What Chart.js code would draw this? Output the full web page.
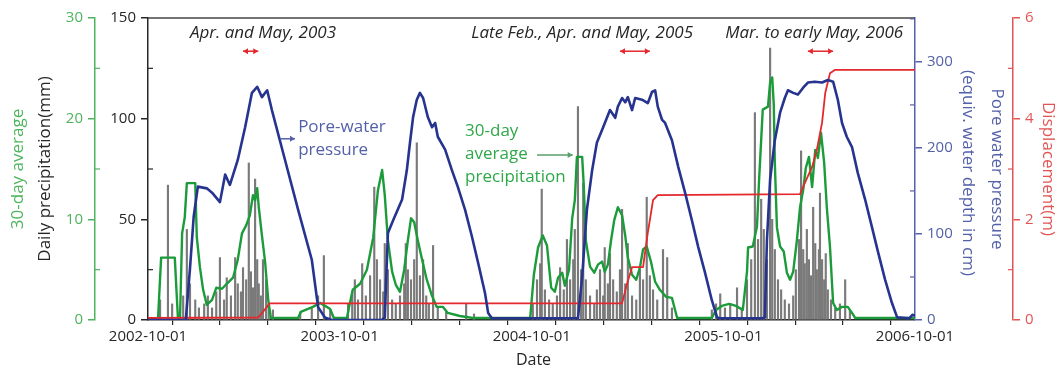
<!DOCTYPE html>
<html>
<head>
<meta charset="utf-8">
<script src="https://cdn.jsdelivr.net/npm/chart.js@4.4.0/dist/chart.umd.min.js"></script>
<style>
  html, body { margin: 0; padding: 0; background: #fff; }
</style>
</head>
<body>
<canvas id="chart" width="1063" height="371"></canvas>
<script>
// days are counted from 2002-10-01
const xTickDay = [0, 92, 182, 273, 365, 457, 548, 639, 731, 823, 913, 1004, 1096, 1188, 1278, 1369, 1461];
const xTickLabel = ["2002-10-01", "", "", "", "2003-10-01", "", "", "", "2004-10-01", "", "", "", "2005-10-01", "", "", "", "2006-10-01"];

// daily precipitation (mm)
const rainDay = [
  23, 38, 46, 67, 74, 80, 90, 97, 107, 114, 122, 130, 137, 145, 150, 158, 166, 171, 177, 181, 187, 192, 196, 200, 204, 208, 211, 215, 219, 225, 230, 238, 290, 312, 324, 335, 347,
  381, 389, 394, 400, 408, 415, 423, 431, 436, 442, 448, 451, 457, 465, 472, 480, 488, 491, 495, 501, 507, 512, 518, 524, 530, 535, 543, 552, 568, 606, 621,
  733, 741, 747, 750, 756, 764, 771, 779, 785, 792, 798, 804, 810, 813, 819, 825, 829, 834, 842, 850, 855, 861, 867, 870, 876, 880, 886, 893, 899, 903, 909, 914, 922, 930, 937, 943, 950, 956, 962, 970, 981, 989, 998,
  1074, 1082, 1090, 1099, 1109, 1122, 1131, 1141, 1149, 1156, 1162, 1168, 1173, 1179, 1185, 1189, 1194, 1200, 1206, 1213, 1221, 1229, 1234, 1240, 1244, 1248, 1251, 1255, 1259, 1263, 1267, 1271, 1274, 1278, 1280, 1284, 1288, 1291, 1295, 1301, 1309, 1318, 1328, 1337
];
const rainMm = [
  10, 67, 8, 12, 45, 18, 10, 6, 8, 12, 6, 14, 31, 10, 21, 12, 31, 18, 14, 26, 20, 78, 24, 16, 70, 30, 18, 12, 30, 20, 8, 5, 4, 6, 12, 32, 5,
  8, 14, 20, 10, 28, 12, 22, 66, 30, 20, 14, 38, 25, 10, 8, 12, 18, 38, 25, 20, 30, 88, 22, 30, 12, 8, 37, 6, 4, 8, 3,
  8, 20, 28, 65, 15, 10, 8, 12, 26, 15, 40, 20, 30, 45, 106, 25, 68, 20, 12, 8, 15, 25, 12, 36, 18, 33, 20, 14, 25, 55, 18, 38, 12, 10, 25, 20, 61, 22, 15, 10, 35, 31, 6,
  5, 8, 13, 6, 8, 16, 6, 20, 30, 103, 40, 60, 45, 30, 135, 50, 35, 20, 15, 10, 8, 12, 25, 40, 84, 35, 28, 45, 30, 22, 56, 38, 25, 35, 63, 30, 20, 33, 15, 10, 6, 8, 20, 5
];

// 30-day average precipitation (mm)
const avgDay = [
  0, 19, 25, 51, 57, 61, 65, 70, 74, 90, 93, 99, 105, 112, 122, 130, 141, 150, 162, 171, 179, 187, 194, 200, 204, 208, 211, 217, 223, 229, 234, 286, 291, 314, 328, 347, 354,
  379, 383, 390, 404, 417, 429, 438, 446, 451, 457, 465, 472, 480, 488, 495, 501, 507, 514, 522, 531, 541, 550, 562, 571, 594, 619,
  728, 735, 743, 752, 760, 768, 775, 781, 789, 794, 802, 808, 813, 817, 827, 830, 834, 842, 850, 857, 865, 870, 876, 882, 888, 895, 903, 909, 914, 922, 930, 937, 943, 950, 958, 966, 975, 987, 998, 1004, 1008,
  1074, 1082, 1093, 1107, 1120, 1133, 1141, 1143, 1152, 1160, 1164, 1171, 1181, 1185, 1189, 1192, 1194, 1198, 1204, 1211, 1217, 1223, 1229, 1236, 1242, 1248, 1253, 1259, 1265, 1271, 1276, 1282, 1288, 1293, 1299, 1305, 1312, 1322, 1333, 1341, 1347, 1461
];
const avgMm = [
  0, 0, 6.2, 6.2, 0.2, 0.2, 8.6, 10.2, 13.6, 13.6, 8.2, 5.2, 3.0, 1.5, 2.0, 3.2, 3.1, 3.6, 4.2, 6.0, 8.6, 9.4, 10.4, 12.4, 11.9, 13.1, 11.2, 8.4, 5.8, 2.0, 0.2, 0.2, 0.8, 1.3, 1.7, 1.1, 0.2,
  0.2, 1.3, 3.0, 3.6, 5.0, 8.2, 12.9, 14.9, 12.4, 7.9, 4.8, 3.5, 2.8, 5.0, 7.9, 10.1, 9.7, 7.9, 6.0, 4.0, 2.4, 1.3, 1.3, 0.7, 0.4, 0.2,
  0.2, 4.5, 7.2, 8.4, 7.4, 3.2, 2.8, 4.2, 4.7, 3.4, 5.0, 10.1, 11.9, 16.2, 16.2, 13.4, 7.9, 5.3, 4.7, 5.5, 5.8, 4.8, 5.5, 7.9, 9.9, 11.2, 10.4, 8.4, 6.2, 4.5, 4.0, 5.2, 7.0, 7.3, 5.8, 3.8, 3.0, 2.3, 2.2, 1.0, 0.2,
  0.2, 1.0, 1.4, 1.6, 1.4, 1.0, 4.8, 7.2, 7.3, 9.3, 13.9, 20.9, 21.2, 23.6, 24.1, 21.4, 15.6, 9.2, 7.3, 6.8, 4.7, 4.0, 4.8, 7.9, 11.2, 12.9, 15.1, 16.2, 13.2, 16.9, 16.1, 18.6, 15.6, 11.2, 7.3, 1.7, 1.0, 1.3, 1.3, 0.7, 0.2, 0.2
];

// pore water pressure (cm of water)
const poreDay = [
  0, 72, 80, 87, 95, 112, 122, 137, 147, 156, 171, 185, 198, 208, 217, 227, 236, 261, 286, 312, 324, 337, 350,
  445, 451, 457, 467, 484, 493, 499, 505, 512, 518, 524, 533, 541, 547, 552, 566, 579, 590, 604, 617, 629, 642, 648, 655,
  812, 819, 827, 836, 846, 855, 867, 880, 890, 895, 903, 909, 914, 922, 928, 941, 952, 960, 966, 971, 979, 985, 998, 1010, 1023, 1036, 1048, 1061, 1074, 1084, 1090,
  1170, 1175, 1179, 1185, 1194, 1204, 1213, 1219, 1229, 1238, 1248, 1257, 1270, 1284, 1295, 1305, 1314, 1322, 1331, 1341, 1352, 1366, 1379, 1391, 1404, 1417, 1427, 1450, 1456, 1461
];
const poreCm = [
  0, 0, 60, 120, 155, 153, 148, 137, 169, 157, 186, 224, 264, 271, 259, 267, 244, 186, 128, 70, 15, 3, 0,
  0, 3, 101, 116, 140, 174, 206, 236, 256, 264, 258, 236, 224, 229, 213, 198, 174, 155, 128, 97, 66, 31, 8, 2,
  2, 2, 50, 128, 174, 206, 224, 244, 235, 248, 258, 253, 259, 244, 258, 256, 252, 265, 267, 248, 233, 229, 209, 178, 148, 116, 85, 55, 23, 3, 2,
  2, 3, 93, 163, 209, 241, 258, 267, 264, 262, 270, 276, 277, 276, 279, 277, 256, 229, 213, 201, 171, 140, 108, 78, 47, 20, 3, 2, 6, 5
];

// displacement (m)
const dispDay = [0, 210, 222, 232, 903, 912, 922, 943, 952, 962, 971, 1242, 1251, 1265, 1274, 1284, 1290, 1299, 1309, 1461];
const dispM = [0.04, 0.05, 0.2, 0.33, 0.33, 0.7, 1.05, 1.05, 1.73, 2.38, 2.48, 2.5, 2.72, 3.04, 3.38, 3.92, 4.51, 4.9, 4.97, 4.97];

// periods of movement noted above the plot
const noteText = ["Apr. and May, 2003", "Late Feb., Apr. and May, 2005", "Mar. to early May, 2006"];
const noteDay = [219, 827, 1269];
const arrowFrom = [181, 899, 1257];
const arrowTo = [210, 956, 1305];

const GREEN = "#1c9b3a", GREEN_AX = "#4fb45f";
const BLUE = "#26348f", BLUE_AX = "#5461a8";
const RED = "#e4282c", RED_AX = "#e25555";
const INK = "#262626";
const FONT = "'Open Sans', 'Noto Sans', sans-serif";

const pts = (xs, ys) => xs.map((x, i) => ({ x, y: ys[i] }));
const fixTicks = vals => scale => { scale.ticks = vals.map(v => ({ value: v })); };

function yAxis(pos, weight, max, ticks, color, width) {
  return {
    position: pos, weight, min: 0, max,
    afterBuildTicks: fixTicks(ticks),
    afterFit: s => { s.width = width; },
    ticks: { color, padding: 5, font: { family: FONT, size: 15 } },
    grid: { drawOnChartArea: false, tickLength: 7, color, lineWidth: 1.5 },
    border: { color, width: 1.5 }
  };
}

function minorTicks(ctx, scale, vals, color, side) {
  ctx.strokeStyle = color;
  ctx.lineWidth = 1.2;
  vals.forEach(v => {
    const y = scale.getPixelForValue(v);
    const x0 = side === "left" ? scale.right : scale.left;
    const x1 = side === "left" ? x0 + 5 : x0 - 5;
    ctx.beginPath(); ctx.moveTo(x0, y); ctx.lineTo(x1, y); ctx.stroke();
  });
}

function vText(ctx, txt, x, y, rot, color, size) {
  ctx.save();
  ctx.translate(x, y);
  ctx.rotate(rot);
  ctx.fillStyle = color;
  ctx.font = `${size || 17}px ${FONT}`;
  ctx.textAlign = "center";
  ctx.textBaseline = "middle";
  ctx.fillText(txt, 0, 0);
  ctx.restore();
}

function arrow(ctx, x0, x1, y, color, both) {
  ctx.save();
  ctx.strokeStyle = color; ctx.fillStyle = color; ctx.lineWidth = 1.5;
  ctx.beginPath(); ctx.moveTo(x0, y); ctx.lineTo(x1, y); ctx.stroke();
  const head = (x, dir) => {
    ctx.beginPath(); ctx.moveTo(x, y); ctx.lineTo(x - dir * 5, y - 3); ctx.lineTo(x - dir * 5, y + 3); ctx.closePath(); ctx.fill();
  };
  head(x1, 1);
  if (both) head(x0, -1);
  ctx.restore();
}

const deco = {
  id: "deco",
  afterDraw(chart) {
    const { ctx, chartArea: a, scales: s } = chart;
    ctx.save();
    // frame on top
    ctx.strokeStyle = "#444"; ctx.lineWidth = 1.5;
    ctx.beginPath(); ctx.moveTo(a.left, a.top); ctx.lineTo(a.right, a.top); ctx.stroke();

    minorTicks(ctx, s.yP, [25, 75, 125], INK, "left");
    minorTicks(ctx, s.yG, [5, 15, 25], GREEN_AX, "left");
    minorTicks(ctx, s.yB, [50, 150, 250, 350], BLUE_AX, "right");
    minorTicks(ctx, s.yR, [1, 3, 5], RED_AX, "right");

    // axis titles
    const midY = (a.top + a.bottom) / 2;
    vText(ctx, "30-day average", s.yG.left + 18, midY, -Math.PI / 2, GREEN_AX);
    vText(ctx, "Daily precipitation(mm)", s.yG.left + 45, midY, -Math.PI / 2, INK);
    vText(ctx, "(equiv. water depth in cm)", s.yB.left + 53, midY + 4, Math.PI / 2, BLUE_AX);
    vText(ctx, "Pore water pressure", s.yB.left + 82, midY, Math.PI / 2, BLUE_AX);
    vText(ctx, "Displacement(m)", s.yR.left + 35, midY, Math.PI / 2, RED_AX);
    vText(ctx, "Date", (a.left + a.right) / 2 + 2, s.x.top + 40, 0, INK, 16);

    // period notes and arrows
    noteText.forEach((t, i) => {
      ctx.font = `italic 17px ${FONT}`;
      ctx.fillStyle = INK; ctx.textAlign = "center"; ctx.textBaseline = "middle";
      ctx.fillText(t, s.x.getPixelForValue(noteDay[i]), s.yP.getPixelForValue(142.5));
      arrow(ctx, s.x.getPixelForValue(arrowFrom[i]), s.x.getPixelForValue(arrowTo[i]), s.yP.getPixelForValue(133.5), RED, true);
    });

    // series labels
    ctx.font = `17px ${FONT}`;
    ctx.textAlign = "left"; ctx.textBaseline = "middle";
    ctx.fillStyle = BLUE_AX;
    ctx.fillText("Pore-water", s.x.getPixelForValue(286), s.yP.getPixelForValue(96));
    ctx.fillText("pressure", s.x.getPixelForValue(286), s.yP.getPixelForValue(84.5));
    arrow(ctx, s.x.getPixelForValue(252), s.x.getPixelForValue(280), s.yP.getPixelForValue(90), BLUE_AX, false);

    ctx.fillStyle = "#2fa84a";
    ctx.fillText("30-day", s.x.getPixelForValue(604), s.yP.getPixelForValue(94));
    ctx.fillText("average", s.x.getPixelForValue(604), s.yP.getPixelForValue(82.5));
    ctx.fillText("precipitation", s.x.getPixelForValue(604), s.yP.getPixelForValue(71));
    arrow(ctx, s.x.getPixelForValue(741), s.x.getPixelForValue(809), s.yP.getPixelForValue(82), "#5a9f6a", false);
    ctx.restore();
  }
};

new Chart(document.getElementById("chart").getContext("2d"), {
  type: "line",
  data: {
    datasets: [
      { label: "Pore water pressure", data: pts(poreDay, poreCm), yAxisID: "yB", borderColor: BLUE, borderWidth: 2.6, order: 0 },
      { label: "Displacement", data: pts(dispDay, dispM), yAxisID: "yR", borderColor: RED, borderWidth: 1.8, order: 1 },
      { label: "30-day average", data: pts(avgDay, avgMm), yAxisID: "yG", borderColor: GREEN, borderWidth: 2.4, order: 2 },
      { type: "bar", label: "Daily precipitation", data: pts(rainDay, rainMm), yAxisID: "yP", backgroundColor: "#7a7a7a", barThickness: 1.5, grouped: false, order: 3 }
    ]
  },
  options: {
    responsive: false,
    animation: false,
    devicePixelRatio: 1,
    layout: { padding: { top: 18, left: 0, right: 0, bottom: 0 } },
    elements: { point: { radius: 0 }, line: { tension: 0, borderJoinStyle: "round", fill: false } },
    plugins: { legend: { display: false }, tooltip: { enabled: false } },
    scales: {
      x: {
        type: "linear", min: 0, max: 1461, offset: false,
        afterBuildTicks: fixTicks(xTickDay),
        afterFit: s => { s.height = 51; },
        ticks: { callback: (v, i) => xTickLabel[i], autoSkip: false, maxRotation: 0, color: INK, padding: 3, font: { family: FONT, size: 15 } },
        grid: { drawOnChartArea: false, tickLength: 5, color: INK, lineWidth: 1.2 },
        border: { color: INK, width: 1.5 }
      },
      yG: yAxis("left", 1, 30, [0, 10, 20, 30], GREEN_AX, 95),
      yP: yAxis("left", 0, 150, [0, 50, 100, 150], INK, 53),
      yB: yAxis("right", 0, 351, [0, 100, 200, 300], BLUE_AX, 98),
      yR: yAxis("right", 1, 6, [0, 2, 4, 6], RED_AX, 50)
    }
  },
  plugins: [deco]
});
</script>
</body>
</html>
